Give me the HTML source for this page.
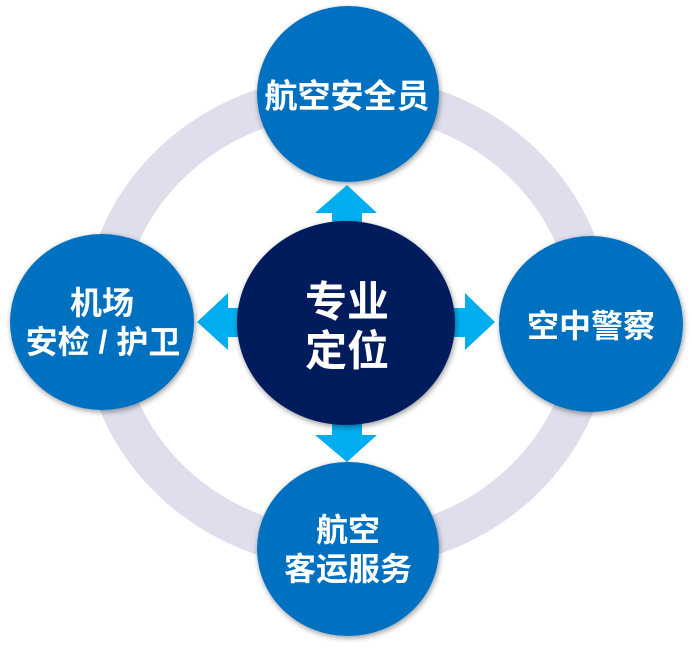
<!DOCTYPE html>
<html><head><meta charset="utf-8"><style>
html,body{margin:0;padding:0;background:#fff;}
svg{display:block;}
text{font-family:"Liberation Sans","Noto Sans CJK SC",sans-serif;font-weight:bold;fill:#fff;text-anchor:middle;dominant-baseline:central;}
</style></head><body>
<svg width="692" height="648" viewBox="0 0 692 648" xmlns="http://www.w3.org/2000/svg">
<defs>
<filter id="sh" x="-20%" y="-20%" width="140%" height="140%">
<feGaussianBlur in="SourceAlpha" stdDeviation="3"/><feOffset dx="1" dy="2"/>
<feComponentTransfer><feFuncA type="linear" slope="0.4"/></feComponentTransfer>
<feMerge><feMergeNode/><feMergeNode in="SourceGraphic"/></feMerge></filter>
</defs>
<ellipse cx="347" cy="322" rx="245" ry="228" fill="none" stroke="#dedeec" stroke-width="39"/>
<g fill="#00aeef">
<polygon points="347,185 377,213 362,213 362,230 332,230 332,213 315,213"/>
<polygon points="347,462 377,435 362,435 362,418 332,418 332,435 315,435"/>
<polygon points="197,322 228,293 228,308 245,308 245,337 228,337 228,350"/>
<polygon points="495,322 465,293 465,308 448,308 448,337 465,337 465,350"/>
</g>
<g fill="#0270c1" filter="url(#sh)">
<ellipse cx="348" cy="94" rx="91" ry="88"/>
<ellipse cx="102" cy="322" rx="92" ry="88"/>
<ellipse cx="591" cy="324" rx="92" ry="88"/>
<ellipse cx="348" cy="549" rx="91" ry="87"/>
</g>
<ellipse cx="346" cy="323" rx="109" ry="102" fill="#021f5c" filter="url(#sh)"/>
<text x="347" y="96" font-size="33">航空安全员</text>
<text x="102" y="303" font-size="32">机场</text>
<text x="103" y="342" font-size="32">安检 / 护卫</text>
<text x="591" y="326" font-size="32">空中警察</text>
<text x="348" y="530" font-size="32">航空</text>
<text x="348" y="569" font-size="32">客运服务</text>
<text x="347" y="302" font-size="42">专业</text>
<text x="347" y="351" font-size="42">定位</text>
</svg>
</body></html>
